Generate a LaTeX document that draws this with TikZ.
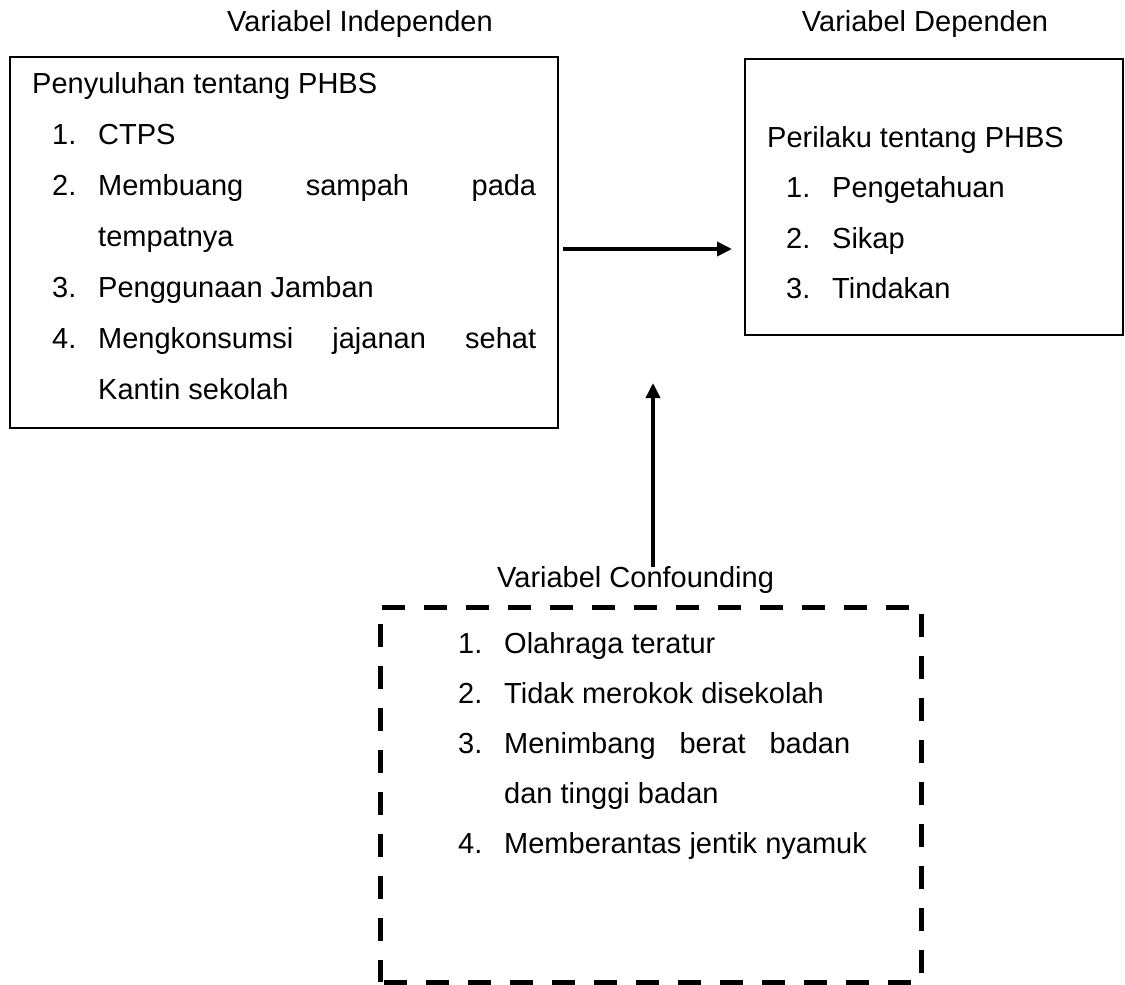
\documentclass[tikz,border=0pt]{standalone}
\usepackage{fontspec}
\setmainfont{Liberation Sans}
\usetikzlibrary{arrows.meta}
\newcommand\itm[1]{\makebox[46pt][l]{#1}}
\begin{document}
\begin{tikzpicture}[x=1pt,y=1pt,
		txt/.style={anchor=base west,inner sep=0pt,font=\fontsize{29}{35}\selectfont},
		ttl/.style={anchor=base,inner sep=0pt,font=\fontsize{29}{35}\selectfont},
		frame/.style={draw,line width=1.6pt,inner sep=0pt},
		arr/.style={line width=3.5pt,-{Triangle[length=15pt,width=14pt]}}]
		\useasboundingbox (0,0) rectangle (1125,-985);
		% titles
		\node[ttl] (tind) at (360,-31) {Variabel Independen};
		\node[ttl] (tdep) at (925,-31) {Variabel Dependen};
		\node[txt] (tcon) at (497,-587) {Variabel Confounding};
		% boxes
		\node[frame,minimum width=548pt,minimum height=371pt] (indep) at (284,-242.5) {};
		\node[frame,minimum width=378pt,minimum height=276pt] (dep) at (934,-197) {};
		\node[draw,line width=5pt,dash pattern=on 23pt off 19pt,dash phase=-4pt,inner sep=0pt,minimum width=541pt,minimum height=375pt] (conf) at (650.5,-794.5) {};
		% independen
		\node[txt] (i0) at (32,-93) {Penyuluhan tentang PHBS};
		\node[txt] (i1) at (52,-144) {\itm{1.}CTPS};
		\node[txt] (i2) at (52,-195) {\itm{2.}\makebox[438pt][s]{Membuang sampah pada}};
		\node[txt] (i2b) at (98,-246) {tempatnya};
		\node[txt] (i3) at (52,-297) {\itm{3.}Penggunaan Jamban};
		\node[txt] (i4) at (52,-348) {\itm{4.}\makebox[438pt][s]{Mengkonsumsi jajanan sehat}};
		\node[txt] (i4b) at (98,-399) {Kantin sekolah};
		% dependen
		\node[txt] (d0) at (767,-147) {Perilaku tentang PHBS};
		\node[txt] (d1) at (786,-197) {\itm{1.}Pengetahuan};
		\node[txt] (d2) at (786,-248) {\itm{2.}Sikap};
		\node[txt] (d3) at (786,-298) {\itm{3.}Tindakan};
		% confounding
		\node[txt] (c1) at (458,-653) {\itm{1.}Olahraga teratur};
		\node[txt] (c2) at (458,-703) {\itm{2.}Tidak merokok disekolah};
		\node[txt] (c3) at (458,-753) {\itm{3.}\makebox[346pt][s]{Menimbang berat badan}};
		\node[txt] (c3b) at (504,-803) {dan tinggi badan};
		\node[txt] (c4) at (458,-853) {\itm{4.}Memberantas jentik nyamuk};
		% arrows
		\coordinate (hs) at (563,-249);
		\coordinate (he) at (732,-249);
		\coordinate (vs) at (653,-567);
		\coordinate (ve) at (653,-383);
		\draw[arr] (hs) -- (he);
		\draw[arr] (vs) -- (ve);
	\end{tikzpicture}
\end{document}
